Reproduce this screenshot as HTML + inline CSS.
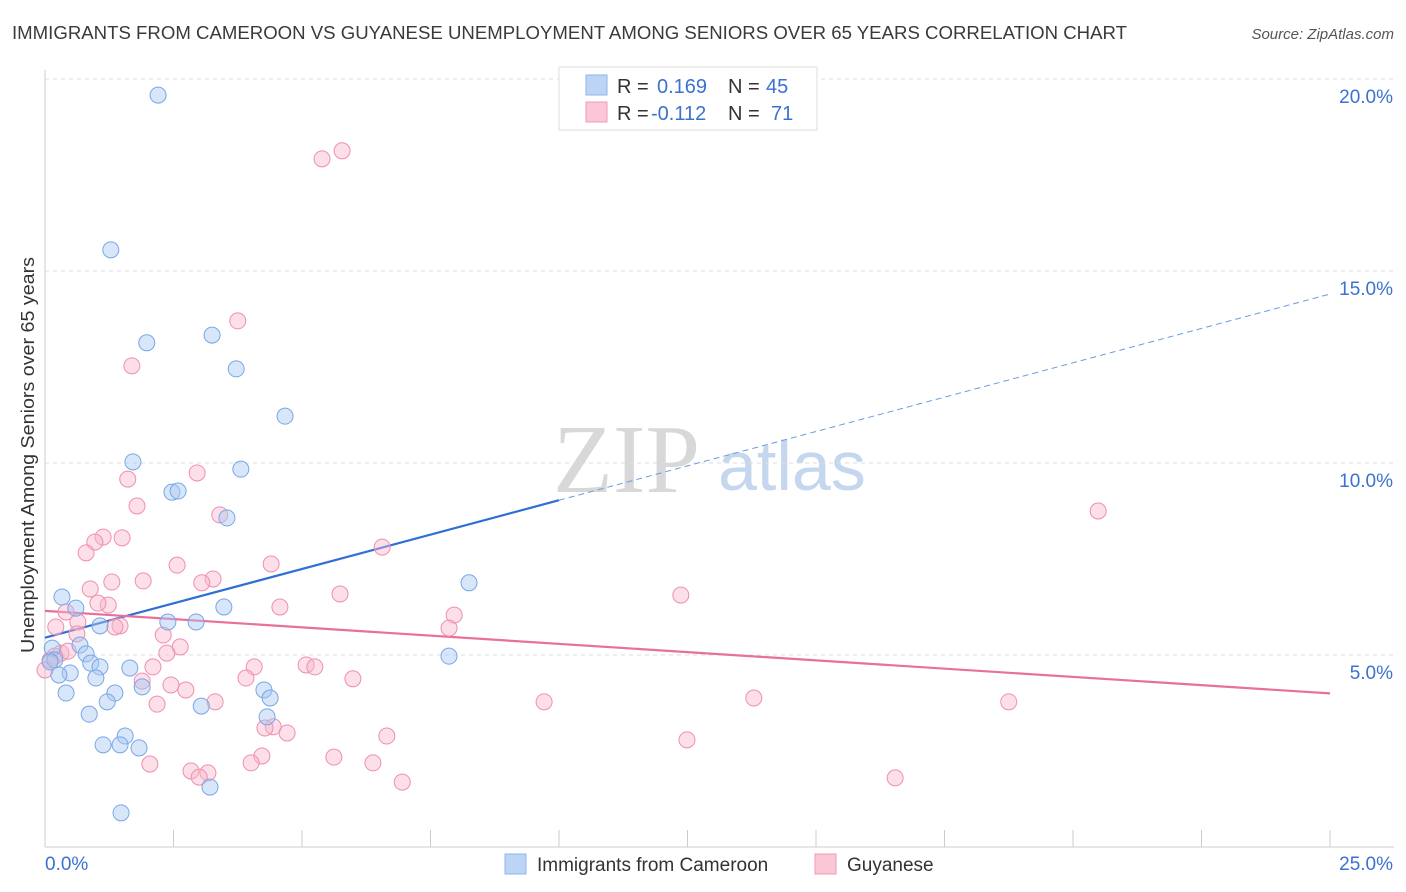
<!DOCTYPE html>
<html><head><meta charset="utf-8"><style>
body{margin:0;background:#fff;font-family:"Liberation Sans",sans-serif;}
svg{display:block}
</style></head><body>
<svg id="c" width="1406" height="892" xmlns="http://www.w3.org/2000/svg">
<text x="12" y="39" font-size="18" textLength="1115" lengthAdjust="spacingAndGlyphs" fill="#3a3a3a">IMMIGRANTS FROM CAMEROON VS GUYANESE UNEMPLOYMENT AMONG SENIORS OVER 65 YEARS CORRELATION CHART</text>
<text x="1394" y="39" font-size="15" fill="#555" font-style="italic" text-anchor="end">Source: ZipAtlas.com</text>
<text x="0" y="0" transform="translate(34,455) rotate(-90)" font-size="18" textLength="396" lengthAdjust="spacingAndGlyphs" fill="#333" text-anchor="middle">Unemployment Among Seniors over 65 years</text>
<g><text x="553" y="492" font-family="Liberation Serif,serif" font-size="98" fill="#d8d8d8">ZIP</text><text x="718" y="490" font-size="70" fill="#c5d7ee">atlas</text></g>
<g id="grid"></g><g id="lines"></g><g id="pts"></g>
<g>
<rect x="559" y="67" width="258" height="63" fill="#fff" stroke="#ddd"/>
<rect x="586" y="75" width="21" height="20" fill="#bcd4f5" stroke="#8fb4ea"/>
<rect x="586" y="102" width="21" height="20" fill="#fbc6d6" stroke="#f29bb7"/>
<text x="617" y="93" font-size="20" fill="#333">R =</text><text x="657" y="93" font-size="20" fill="#3a72d0">0.169</text>
<text x="728" y="93" font-size="20" fill="#333">N =</text><text x="766" y="93" font-size="20" fill="#3a72d0">45</text>
<text x="617" y="120" font-size="20" fill="#333">R =</text><text x="651" y="120" font-size="20" fill="#3a72d0">-0.112</text>
<text x="728" y="120" font-size="20" fill="#333">N =</text><text x="771" y="120" font-size="20" fill="#3a72d0">71</text>
</g>
<g>
<rect x="505" y="854" width="21" height="20" fill="#bcd4f5" stroke="#8fb4ea"/>
<text x="537" y="871" font-size="19" fill="#333">Immigrants from Cameroon</text>
<rect x="815" y="854" width="21" height="20" fill="#fbc6d6" stroke="#f29bb7"/>
<text x="847" y="871" font-size="19" fill="#333">Guyanese</text>
</g>
</svg>
<script>
const xTicks=[0,2.5,5,7.5,10,12.5,15,17.5,20,22.5,25];
const yTicks=[5,10,15,20];
const blueX=[2.20,1.28,1.98,3.25,3.72,4.67,1.71,3.81,2.47,2.59,3.54,8.25,0.33,0.60,3.48,2.39,2.94,1.07,0.68,0.80,0.14,0.19,0.89,1.07,1.65,0.49,0.27,0.99,1.89,4.26,1.36,0.41,4.38,1.21,3.04,0.86,4.32,1.56,1.13,1.46,1.83,3.21,1.48,7.86,0.10];
const blueY=[19.58,15.55,13.13,13.33,12.45,11.22,10.03,9.84,9.24,9.27,8.57,6.88,6.51,6.22,6.25,5.86,5.86,5.76,5.26,5.03,5.18,4.87,4.79,4.69,4.66,4.53,4.48,4.40,4.17,4.09,4.01,4.01,3.88,3.78,3.67,3.46,3.39,2.89,2.66,2.66,2.58,1.56,0.89,4.97,4.82];
const pinkX=[5.78,5.39,3.75,1.69,20.49,2.96,1.61,1.79,3.40,1.13,1.50,0.97,0.80,6.56,2.57,4.40,1.30,1.91,0.88,3.27,3.05,12.37,5.74,4.57,1.23,1.03,0.41,7.96,0.64,0.21,1.46,1.36,7.86,2.30,0.62,2.63,2.37,0.31,0.45,0.19,0.10,4.07,5.08,5.25,2.10,0.0,3.91,5.99,1.89,2.45,2.74,3.31,2.18,9.71,13.79,18.75,4.44,4.28,4.71,6.65,12.49,4.22,5.62,2.04,6.38,4.01,2.84,3.17,3.00,6.95,16.54];
const pinkY=[18.13,17.92,13.70,12.53,8.75,9.74,9.58,8.88,8.65,8.07,8.05,7.94,7.66,7.81,7.34,7.37,6.90,6.93,6.72,6.98,6.88,6.56,6.59,6.25,6.30,6.35,6.12,6.04,5.86,5.73,5.76,5.73,5.70,5.52,5.55,5.21,5.05,5.05,5.10,4.97,4.87,4.69,4.74,4.69,4.69,4.61,4.40,4.38,4.32,4.22,4.09,3.78,3.72,3.78,3.88,3.78,3.13,3.10,2.97,2.89,2.79,2.37,2.34,2.16,2.19,2.19,1.98,1.93,1.82,1.69,1.80];
const blueFit=[5.45,14.4];
const pinkFit=[6.15,4.0];
const sx=v=>45+v*51.4, sy=v=>847-v*38.4;
const NS="http://www.w3.org/2000/svg";
function mk(p,t,a){const e=document.createElementNS(NS,t);for(const k in a)e.setAttribute(k,a[k]);document.getElementById(p).appendChild(e);return e;}
let e=mk('grid','line',{x1:45,y1:70,x2:45,y2:847,stroke:'#ccc'});

e=mk('grid','line',{x1:45,y1:847,x2:1394,y2:847,stroke:'#ccc'});

xTicks.forEach(t=>{e=mk('grid','line',{x1:sx(t),y1:830,x2:sx(t),y2:847,stroke:'#ccc'});
});
yTicks.forEach(t=>{e=mk('grid','line',{x1:45,y1:sy(t),x2:1394,y2:sy(t),stroke:'#ddd','stroke-dasharray':'4,4'});

e=mk('grid','text',{x:1393,y:sy(t)+24,'font-size':19,fill:'#3a72d0','text-anchor':'end'});e.textContent=t.toFixed(1)+'%';
});
e=mk('grid','text',{x:45,y:870,'font-size':19,fill:'#3a72d0'});e.textContent='0.0%';

e=mk('grid','text',{x:1393,y:870,'font-size':19,fill:'#3a72d0','text-anchor':'end'});e.textContent='25.0%';

function drawPts(X,Y,fill,stroke,name){X.forEach((x,i)=>{const c=mk('pts','circle',{cx:sx(x),cy:sy(Y[i]),r:8,fill:fill,'fill-opacity':0.45,stroke:stroke,'stroke-width':1});
});}
drawPts(pinkX,pinkY,'#f9b8cc','#ef8fae','guyanese-point');
drawPts(blueX,blueY,'#a9c8f2','#7aa6e6','cameroon-point');
const fy=(f,x)=>f[0]+(f[1]-f[0])*x/25;
e=mk('lines','line',{x1:sx(0),y1:sy(fy(blueFit,0)),x2:sx(10),y2:sy(fy(blueFit,10)),stroke:'#2f6fd6','stroke-width':2.2});

e=mk('lines','line',{x1:sx(10),y1:sy(fy(blueFit,10)),x2:sx(25),y2:sy(fy(blueFit,25)),stroke:'#6a9be0','stroke-width':1,'stroke-dasharray':'6,4'});

e=mk('lines','line',{x1:sx(0),y1:sy(pinkFit[0]),x2:sx(25),y2:sy(pinkFit[1]),stroke:'#e8709a','stroke-width':2.2});

</script>
</body></html>
